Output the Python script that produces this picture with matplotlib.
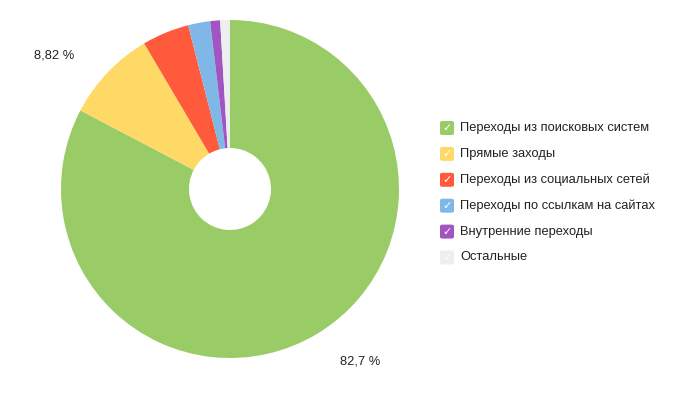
import matplotlib
matplotlib.use("Agg")
import matplotlib.pyplot as plt
from matplotlib.patches import FancyBboxPatch

plt.rcParams['font.family'] = ['Liberation Sans', 'DejaVu Sans']

categories = ["Переходы из поисковых систем", "Прямые заходы", "Переходы из социальных сетей",
              "Переходы по ссылкам на сайтах", "Внутренние переходы", "Остальные"]
values = [82.7, 8.82, 4.5, 2.1, 0.95, 0.93]
labels_shown = ["82,7 %", "8,82 %", "", "", "", ""]
colors = ["#99cc66", "#ffd966", "#ff5a3c", "#7fb8e6", "#a155c0", "#eeeeee"]

W, H = 694, 394
fig = plt.figure(figsize=(W / 100, H / 100), dpi=100)
fig.patch.set_facecolor("white")

cx, cy, R = 230, 189, 169
ax = fig.add_axes([(cx - R) / W, (H - cy - R) / H, 2 * R / W, 2 * R / H])
ax.set_aspect("equal")
wedges, _ = ax.pie(values, colors=colors, startangle=90, counterclock=False,
                   radius=1.0, wedgeprops=dict(width=1 - 41 / R, edgecolor="none", linewidth=0))
ax.set_xlim(-1, 1)
ax.set_ylim(-1, 1)
ax.axis("off")

# value labels
fig.text(360 / W, 1 - 361 / H, labels_shown[0], ha="center", va="center", fontsize=9.3, color="#222222")
fig.text(54 / W, 1 - 55 / H, labels_shown[1], ha="center", va="center", fontsize=9.3, color="#222222")

# legend
lx, ly0, dy = 447, 128, 25.9
for i, (cat, col) in enumerate(zip(categories, colors)):
    y = ly0 + i * dy
    box = FancyBboxPatch(((lx - 7) / W, 1 - (y + 7) / H), 14 / W, 14 / H,
                         boxstyle="round,pad=0,rounding_size=0.004", transform=fig.transFigure,
                         facecolor=col, edgecolor="none")
    fig.patches.append(box)
    fig.text(lx / W, 1 - y / H, "✓", ha="center", va="center", fontsize=8, color="white",
             fontweight="bold", family="DejaVu Sans")
    fig.text(460 / W, 1 - y / H, cat, ha="left", va="center", fontsize=9.3, color="#222222")

fig.savefig("out.png", dpi=100)
